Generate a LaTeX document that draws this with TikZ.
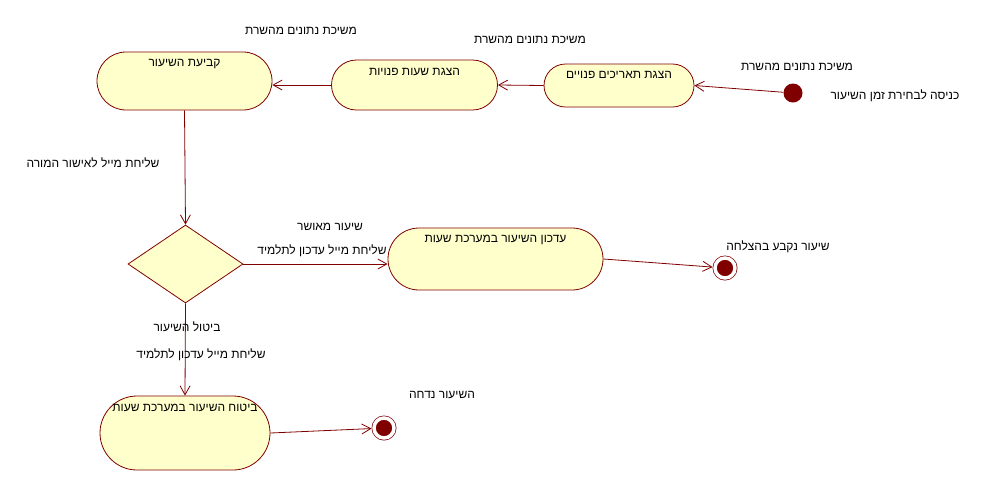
\documentclass[tikz,border=0pt]{standalone}
\usepackage{fontspec}
\setmainfont[Script=Hebrew]{Liberation Sans}
\TeXXeTstate=1
\usetikzlibrary{shapes.geometric,arrows.meta}
\definecolor{edgec}{RGB}{128,0,0}
\definecolor{fillc}{RGB}{255,255,204}
\begin{document}
\begin{tikzpicture}[x=1pt,y=-1pt,
  font=\fontsize{12}{14}\selectfont,
  act/.style={draw=edgec, fill=fillc, line width=0.8pt, inner sep=0pt},
  inlabel/.style={anchor=center, yshift=-12pt, inner sep=0pt},
  lbl/.style={inner sep=0pt, anchor=center},
  arr/.style={draw=edgec, line width=0.8pt, -{Straight Barb[length=9pt,width=10pt]}},
  finalst/.style={circle, fill=edgec, draw=edgec, line width=0.7pt, double=white, double distance=3.5pt, minimum size=20pt, inner sep=0pt, outer sep=2.5pt},
  initst/.style={circle, fill=edgec, minimum size=19pt, inner sep=0pt},
  decision/.style={diamond, draw=edgec, fill=fillc, line width=0.8pt, inner sep=0pt, minimum width=115pt, minimum height=78pt}]
\useasboundingbox (0,0) rectangle (988,491);
\fill[white] (0,0) rectangle (988,491);

% activities
\node[act, rounded corners=29pt, minimum width=175pt, minimum height=58pt,
  label={[inlabel]north:\beginR קביעת השיעור\endR}] (n1) at (184.5,81) {};
\node[act, rounded corners=25pt, minimum width=166pt, minimum height=50pt,
  label={[inlabel]north:\beginR הצגת שעות פנויות\endR}] (n2) at (414.5,85) {};
\node[act, rounded corners=21.5pt, minimum width=150pt, minimum height=43pt,
  label={[inlabel, yshift=1pt]north:\beginR הצגת תאריכים פנויים\endR}] (n3) at (619,85.5) {};
\node[act, rounded corners=31pt, minimum width=215pt, minimum height=62pt,
  label={[inlabel]north:\beginR עדכון השיעור במערכת שעות\endR}] (n5) at (495.5,259) {};
\node[act, rounded corners=37pt, minimum width=170pt, minimum height=74pt,
  label={[inlabel]north:\beginR ביטוח השיעור במערכת שעות\endR}] (n6) at (185,433) {};

\node[decision] (dia) at (185.5,264) {};

\node[initst] (init) at (793,93) {};
\node[finalst] (f1) at (725,268) {};
\node[finalst] (f2) at (384,428) {};

% connectors
\draw[arr] (init) -- (n3.east);
\draw[arr] (n3.west) -- (n2.east);
\draw[arr] (n2.west) -- (n2.west -| n1.east);
\draw[arr] (n1.south) -- (dia.north);
\draw[arr] (dia.east) -- (dia.east -| n5.west);
\draw[arr] (n5.east) -- (f1);
\draw[arr] (dia.south) -- (n6.north);
\draw[arr] (n6.east) -- (f2);

% labels
\node[lbl] (l1) at (301,31) {\beginR משיכת נתונים מהשרת\endR};
\node[lbl] (l2) at (530,40) {\beginR משיכת נתונים מהשרת\endR};
\node[lbl] (l3) at (797,67) {\beginR משיכת נתונים מהשרת\endR};
\node[lbl] (l4) at (895,96) {\beginR כניסה לבחירת זמן השיעור\endR};
\node[lbl] (l5) at (93,163) {\beginR שליחת מייל לאישור המורה\endR};
\node[lbl] (l6) at (330,227) {\beginR שיעור מאושר\endR};
\node[lbl] (l7) at (322,251) {\beginR שליחת מייל עדכון לתלמיד\endR};
\node[lbl] (l8) at (778,247) {\beginR שיעור נקבע בהצלחה\endR};
\node[lbl] (l9) at (187,327) {\beginR ביטול השיעור\endR};
\node[lbl] (l10) at (201,355) {\beginR שליחת מייל עדכון לתלמיד\endR};
\node[lbl] (l11) at (442,395) {\beginR השיעור נדחה\endR};
\end{tikzpicture}
\end{document}
